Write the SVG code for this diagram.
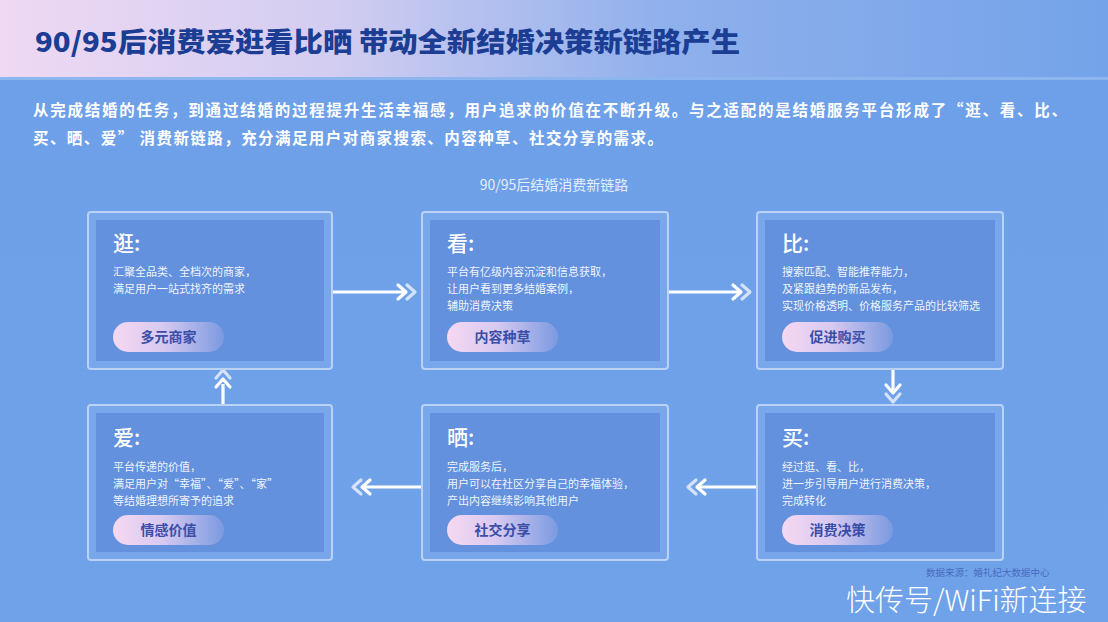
<svg xmlns="http://www.w3.org/2000/svg" width="1108" height="622" viewBox="0 0 1108 622">
<defs>
<linearGradient id="hdr" x1="0" y1="0" x2="1" y2="0">
<stop offset="0" stop-color="#efd9f3"/>
<stop offset="0.3" stop-color="#d2cdf1"/>
<stop offset="0.6" stop-color="#8fb0ec"/>
<stop offset="1" stop-color="#74a3e9"/>
</linearGradient>
<linearGradient id="bg" x1="0" y1="0" x2="0" y2="1">
<stop offset="0" stop-color="#6ea0e9"/>
<stop offset="1" stop-color="#70a2e9"/>
</linearGradient>
<linearGradient id="pill" x1="0" y1="0" x2="1" y2="0">
<stop offset="0" stop-color="#f6d8f1"/>
<stop offset="0.45" stop-color="#d7c9f1"/>
<stop offset="1" stop-color="#7b9ae0"/>
</linearGradient>
<g id="chev">
<path d="M-16,-7 L-8,0 L-16,7" fill="none" stroke="#ffffff" stroke-width="3.2" stroke-linecap="round" stroke-linejoin="round"/>
<path d="M-7,-7 L1,0 L-7,7" fill="none" stroke="#ffffff" stroke-opacity="0.7" stroke-width="3.2" stroke-linecap="round" stroke-linejoin="round"/>
</g>
</defs>
<style>
.cjk{font-family:"Noto Sans CJK SC","Noto Sans",sans-serif}
.outer{fill:#78a7ec;stroke:#b9d2f6;stroke-width:2}
.inner{fill:#6391de}
.ttl{font-size:21px;fill:#ffffff;font-weight:500}
.dsc{font-size:11px;fill:#ffffff;fill-opacity:0.92}
.pt{font-size:14px;font-weight:700;fill:#3a4ea8;text-anchor:middle}
.ln{stroke:#ffffff;stroke-width:3.2;fill:none}
</style>
<rect x="0" y="0" width="1108" height="622" fill="url(#bg)"/>
<rect x="0" y="0" width="1108" height="77" fill="url(#hdr)"/>
<rect x="0" y="77" width="1108" height="3" fill="#8db6ef"/>
<text class="cjk" x="35" y="52" font-size="27" font-weight="900" fill="#1b3d93" textLength="705" lengthAdjust="spacingAndGlyphs">90/95后消费爱逛看比晒 带动全新结婚决策新链路产生</text>
<text class="cjk" x="33" y="116" font-size="15.5" font-weight="700" fill="#ffffff" textLength="1034" lengthAdjust="spacing">从完成结婚的任务，到通过结婚的过程提升生活幸福感，用户追求的价值在不断升级。与之适配的是结婚服务平台形成了“逛、看、比、</text>
<text class="cjk" x="33" y="144" font-size="15.5" font-weight="700" fill="#ffffff" textLength="630" lengthAdjust="spacing">买、晒、爱” 消费新链路，充分满足用户对商家搜索、内容种草、社交分享的需求。</text>
<text class="cjk" x="554" y="190" font-size="14" fill="#e4edfb" text-anchor="middle">90/95后结婚消费新链路</text>

<g id="connectors">
<g id="a1"><line class="ln" x1="333" y1="292" x2="404" y2="292"/><use href="#chev" transform="translate(414,292)"/></g>
<g id="a2"><line class="ln" x1="669" y1="292" x2="739" y2="292"/><use href="#chev" transform="translate(749,292)"/></g>
<g id="a3"><line class="ln" x1="893" y1="370" x2="893" y2="390"/><use href="#chev" transform="translate(893,401) rotate(90)"/></g>
<g id="a4"><line class="ln" x1="756" y1="487" x2="699" y2="487"/><use href="#chev" transform="translate(689,487) rotate(180)"/></g>
<g id="a5"><line class="ln" x1="421" y1="487" x2="364" y2="487"/><use href="#chev" transform="translate(354,487) rotate(180)"/></g>
<g id="a6"><line class="ln" x1="223" y1="404" x2="223" y2="384"/><use href="#chev" transform="translate(223,371) rotate(-90)"/></g>
</g>

<g id="n-guang" class="cjk">
<rect class="outer" x="88" y="212" width="244" height="157" rx="3"/>
<rect class="inner" x="96" y="220" width="228" height="141"/>
<text class="ttl" x="113" y="251">逛:</text>
<text class="dsc" x="113" y="276">汇聚全品类、全档次的商家，</text>
<text class="dsc" x="113" y="293">满足用户一站式找齐的需求</text>
<rect x="113" y="322" width="111" height="30" rx="15" fill="url(#pill)"/>
<text class="pt" x="168.5" y="342">多元商家</text>
</g>

<g id="n-kan" class="cjk">
<rect class="outer" x="422" y="212" width="246" height="157" rx="3"/>
<rect class="inner" x="430" y="220" width="230" height="141"/>
<text class="ttl" x="447" y="251">看:</text>
<text class="dsc" x="447" y="276">平台有亿级内容沉淀和信息获取，</text>
<text class="dsc" x="447" y="293">让用户看到更多结婚案例，</text>
<text class="dsc" x="447" y="310">辅助消费决策</text>
<rect x="447" y="322" width="111" height="30" rx="15" fill="url(#pill)"/>
<text class="pt" x="502.5" y="342">内容种草</text>
</g>

<g id="n-bi" class="cjk">
<rect class="outer" x="757" y="212" width="246" height="157" rx="3"/>
<rect class="inner" x="765" y="220" width="230" height="141"/>
<text class="ttl" x="782" y="251">比:</text>
<text class="dsc" x="782" y="276">搜索匹配、智能推荐能力，</text>
<text class="dsc" x="782" y="293">及紧跟趋势的新品发布，</text>
<text class="dsc" x="782" y="310">实现价格透明、价格服务产品的比较筛选</text>
<rect x="782" y="322" width="111" height="30" rx="15" fill="url(#pill)"/>
<text class="pt" x="837.5" y="342">促进购买</text>
</g>

<g id="n-mai" class="cjk">
<rect class="outer" x="757" y="405" width="246" height="155" rx="3"/>
<rect class="inner" x="765" y="413" width="230" height="139"/>
<text class="ttl" x="782" y="445">买:</text>
<text class="dsc" x="782" y="471">经过逛、看、比，</text>
<text class="dsc" x="782" y="488">进一步引导用户进行消费决策，</text>
<text class="dsc" x="782" y="505">完成转化</text>
<rect x="782" y="515" width="111" height="30" rx="15" fill="url(#pill)"/>
<text class="pt" x="837.5" y="535">消费决策</text>
</g>

<g id="n-shai" class="cjk">
<rect class="outer" x="422" y="405" width="246" height="155" rx="3"/>
<rect class="inner" x="430" y="413" width="230" height="139"/>
<text class="ttl" x="447" y="445">晒:</text>
<text class="dsc" x="447" y="471">完成服务后，</text>
<text class="dsc" x="447" y="488">用户可以在社区分享自己的幸福体验，</text>
<text class="dsc" x="447" y="505">产出内容继续影响其他用户</text>
<rect x="447" y="515" width="111" height="30" rx="15" fill="url(#pill)"/>
<text class="pt" x="502.5" y="535">社交分享</text>
</g>

<g id="n-ai" class="cjk">
<rect class="outer" x="88" y="405" width="244" height="155" rx="3"/>
<rect class="inner" x="96" y="413" width="228" height="139"/>
<text class="ttl" x="113" y="445">爱:</text>
<text class="dsc" x="113" y="471">平台传递的价值，</text>
<text class="dsc" x="113" y="488">满足用户对“幸福”、“爱”、“家”</text>
<text class="dsc" x="113" y="505">等结婚理想所寄予的追求</text>
<rect x="113" y="515" width="111" height="30" rx="15" fill="url(#pill)"/>
<text class="pt" x="168.5" y="535">情感价值</text>
</g>

<text class="cjk" x="926" y="576" font-size="9.5" fill="#3f5fb4" fill-opacity="0.85">数据来源：婚礼纪大数据中心</text>
<text class="cjk" x="846" y="611" font-size="29" font-weight="300" fill="#ffffff">快传号/WiFi新连接</text>
</svg>
